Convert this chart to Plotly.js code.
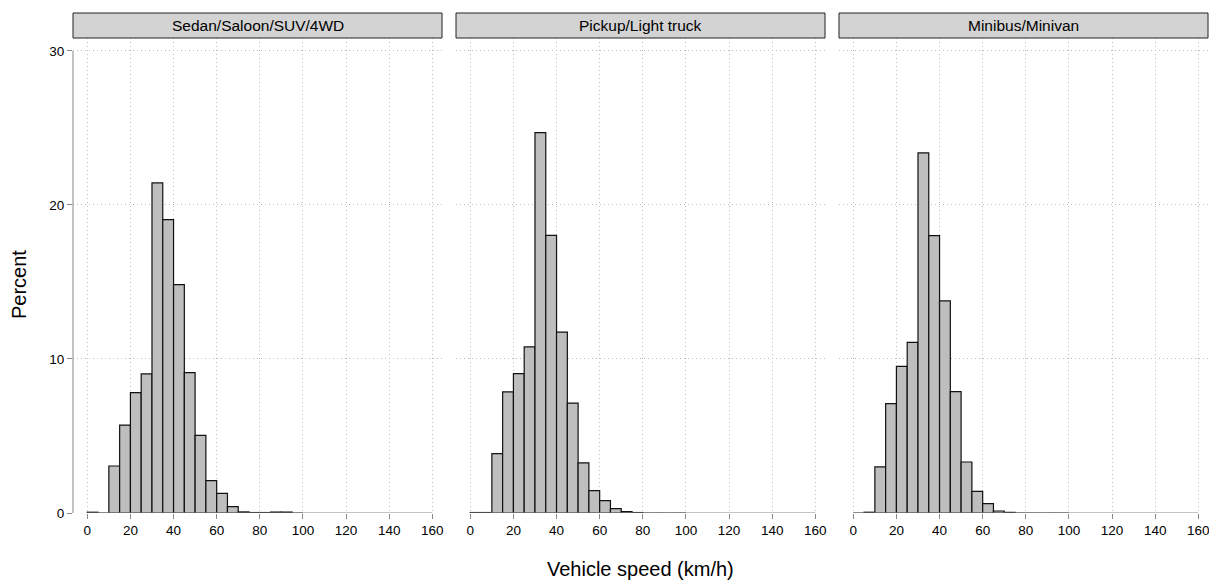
<!DOCTYPE html>
<html>
<head>
<meta charset="utf-8">
<script src="https://cdn.plot.ly/plotly-3.0.1.min.js"></script>
<style>html,body{margin:0;padding:0;background:#fff;}#chart{width:1209px;height:581px;}</style>
</head>
<body>
<div id="chart"></div>
<script>
// Lower edges of 5 km/h speed bins
var binStart = [0,5,10,15,20,25,30,35,40,45,50,55,60,65,70,75,80,85,90,95];
var binWidth = 5;
var panelTitles = ["Sedan/Saloon/SUV/4WD", "Pickup/Light truck", "Minibus/Minivan"];
var sedan   = [0.05,0,3.05,5.71,7.81,9.03,21.43,19.05,14.83,9.11,5.04,2.10,1.28,0.41,0.07,0.03,0.03,0.06,0.06,0];
var pickup  = [0.03,0.03,3.85,7.86,9.05,10.78,24.70,18.03,11.75,7.14,3.25,1.45,0.80,0.28,0.09,0.03,0,0,0,0];
var minibus = [0,0.05,2.99,7.10,9.52,11.08,23.38,18.01,13.77,7.88,3.31,1.41,0.61,0.13,0.04,0,0,0,0,0];
var xTicks = [0,20,40,60,80,100,120,140,160];
var yTicks = [0,10,20,30];
var xTitle = "Vehicle speed (km/h)";
var yTitle = "Percent";

var series = [sedan, pickup, minibus];
var FONT = "Liberation Sans, Arial, Helvetica, sans-serif";
var centers = binStart.map(function(s){ return s + binWidth/2; });
var domains = [[0, 369/1135], [383/1135, 752/1135], [766/1135, 1]];
var axSuffix = ["", "2", "3"];

var traces = series.map(function(vals, i){
  return {
    type: "bar",
    x: centers,
    y: vals,
    width: binWidth,
    xaxis: "x" + axSuffix[i],
    yaxis: "y" + axSuffix[i],
    marker: {color: "#bebebe", line: {color: "#111111", width: 1.2}},
    hoverinfo: "x+y",
    showlegend: false
  };
});

var layout = {
  width: 1209, height: 581,
  margin: {l: 73, r: 1, t: 38, b: 68},
  paper_bgcolor: "#ffffff",
  plot_bgcolor: "#ffffff",
  bargap: 0,
  font: {family: FONT, size: 13.5, color: "#000"},
  shapes: [],
  annotations: []
};

for (var i = 0; i < 3; i++) {
  var s = axSuffix[i];
  layout["xaxis" + s] = {
    domain: domains[i],
    anchor: "y" + s,
    range: [-6.63, 164.5],
    tickmode: "array",
    tickvals: xTicks,
    ticktext: xTicks.map(String),
    ticks: "outside", ticklen: 5, tickcolor: "#888", tickwidth: 1,
    ticklabeloverflow: "allow",
    showline: false, zeroline: false,
    showgrid: true, gridcolor: "#bdbdbd", griddash: "1px,3px", gridwidth: 1,
    tickfont: {family: FONT, size: 13.5, color: "#000"},
    fixedrange: true
  };
  layout["yaxis" + s] = {
    domain: [0, 1],
    anchor: "x" + s,
    range: [0, 30.84],
    tickmode: "array",
    tickvals: yTicks,
    ticktext: yTicks.map(String),
    showticklabels: i === 0,
    ticks: i === 0 ? "outside" : "",
    ticklen: 5, tickcolor: "#888", tickwidth: 1,
    showline: false, zeroline: false,
    showgrid: true, gridcolor: "#bdbdbd", griddash: "1px,3px", gridwidth: 1,
    tickfont: {family: FONT, size: 13.5, color: "#000"},
    fixedrange: true
  };
  // x axis line spanning the tick range
  layout.shapes.push({
    type: "line", xref: "x" + s, yref: "y" + s,
    x0: xTicks[0], x1: xTicks[xTicks.length-1], y0: 0, y1: 0,
    line: {color: "#888", width: 1}, layer: "above"
  });
  // strip header
  layout.shapes.push({
    type: "rect", xref: "x" + s + " domain", yref: "paper",
    x0: 0, x1: 1, y0: 1, y1: 1 + 25/475,
    fillcolor: "#d3d3d3", line: {color: "#222", width: 1}
  });
  layout.annotations.push({
    xref: "x" + s + " domain", yref: "paper",
    x: 0.5, y: 1 + 12.5/475, xanchor: "center", yanchor: "middle",
    text: panelTitles[i], showarrow: false,
    font: {family: FONT, size: 15.5, color: "#000"}
  });
}
// y axis line spanning tick range (panel 1)
layout.shapes.push({
  type: "line", xref: "paper", yref: "y",
  x0: 0, x1: 0, y0: yTicks[0], y1: yTicks[yTicks.length-1],
  line: {color: "#888", width: 1}, layer: "above"
});
layout.annotations.push({
  xref: "paper", yref: "paper", x: (640-73)/1135, y: -(569-513)/475,
  xanchor: "center", yanchor: "middle", text: xTitle, showarrow: false,
  font: {family: FONT, size: 20, color: "#000"}
});
layout.annotations.push({
  xref: "paper", yref: "paper", x: (19-73)/1135, y: (513-284)/475,
  xanchor: "center", yanchor: "middle", text: yTitle, showarrow: false,
  textangle: -90,
  font: {family: FONT, size: 20, color: "#000"}
});

Plotly.newPlot("chart", traces, layout, {displayModeBar: false, staticPlot: true});
</script>
</body>
</html>
